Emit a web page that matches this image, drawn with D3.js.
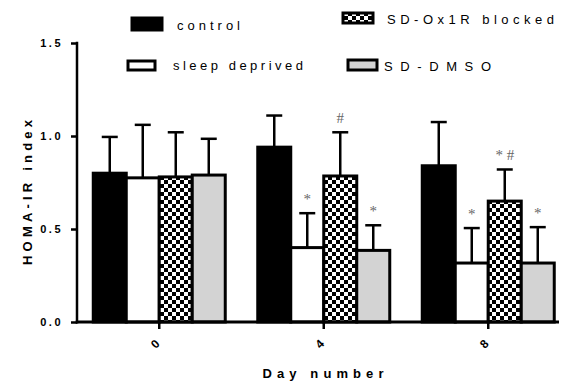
<!DOCTYPE html>
<html>
<head>
<meta charset="utf-8">
<script src="https://cdn.jsdelivr.net/npm/d3@7"></script>
<style>
  html, body { margin: 0; padding: 0; background: #fff; }
  svg { display: block; }
</style>
</head>
<body>
<svg id="chart" width="562" height="383"></svg>
<script>
// HOMA-IR index by day, four experimental groups (mean + SD)
const days = ["0", "4", "8"];
const groups = ["control", "sleep deprived", "SD-Ox1R blocked", "SD-DMSO"];

const controlMean = [0.80, 0.94, 0.84];
const controlSD = [0.195, 0.17, 0.235];
const sleepDeprivedMean = [0.775, 0.40, 0.317];
const sleepDeprivedSD = [0.285, 0.185, 0.188];
const ox1rBlockedMean = [0.78, 0.785, 0.65];
const ox1rBlockedSD = [0.24, 0.235, 0.17];
const dmsoMean = [0.79, 0.385, 0.317];
const dmsoSD = [0.195, 0.135, 0.193];

// significance marks per group and day
const controlMarks = ["", "", ""];
const sleepDeprivedMarks = ["", "*", "*"];
const ox1rBlockedMarks = ["", "#", "* #"];
const dmsoMarks = ["", "*", "*"];

const yTicks = [0, 0.5, 1.0, 1.5];
const yTickLabels = ["0.0", "0.5", "1.0", "1.5"];

const means = [controlMean, sleepDeprivedMean, ox1rBlockedMean, dmsoMean];
const sds = [controlSD, sleepDeprivedSD, ox1rBlockedSD, dmsoSD];
const marks = [controlMarks, sleepDeprivedMarks, ox1rBlockedMarks, dmsoMarks];

const svg = d3.select("#chart");
const sans = "'Liberation Sans', Arial, sans-serif";
const serif = "'Liberation Serif', 'Times New Roman', serif";

// fills: solid black, white, checkerboard, light grey
const defs = svg.append("defs");
const pat = defs.append("pattern")
  .attr("id", "checker")
  .attr("patternUnits", "userSpaceOnUse")
  .attr("width", 8).attr("height", 8);
pat.append("rect").attr("width", 8).attr("height", 8).attr("fill", "#fff");
pat.append("rect").attr("width", 4).attr("height", 4).attr("fill", "#000");
pat.append("rect").attr("x", 4).attr("y", 4).attr("width", 4).attr("height", 4).attr("fill", "#000");
const fills = ["#000", "#fff", "url(#checker)", "#d3d3d3"];

const axisLeft = 77, axisRight = 559, axisTop = 43, axisBottom = 322;

const y = d3.scaleLinear().domain([0, 1.5]).range([axisBottom, axisTop]);
const x = d3.scaleBand().domain(days).range([axisLeft, axisLeft + 3 * 164.5]).padding(0);
const groupWidth = 132;
const xInner = d3.scaleBand().domain(groups).range([-groupWidth / 2, groupWidth / 2]).padding(0);

const barRows = [];
groups.forEach((g, gi) => {
  days.forEach((d, di) => {
    barRows.push({ group: g, gi, day: d, mean: means[gi][di], sd: sds[gi][di], mark: marks[gi][di] });
  });
});

const plot = svg.append("g");
const barX = r => x(r.day) + x.bandwidth() / 2 + xInner(r.group);

// bars
plot.selectAll("rect.bar").data(barRows).join("rect")
  .attr("class", "bar")
  .attr("x", r => barX(r))
  .attr("width", xInner.bandwidth())
  .attr("y", r => y(r.mean))
  .attr("height", r => y(0) - y(r.mean))
  .attr("fill", r => fills[r.gi])
  .attr("stroke", "#000")
  .attr("stroke-width", 3);

// upper error whiskers
const capHalf = 8;
const cx = r => barX(r) + xInner.bandwidth() / 2;
plot.selectAll("line.err").data(barRows).join("line")
  .attr("class", "err")
  .attr("x1", cx).attr("x2", cx)
  .attr("y1", r => y(r.mean)).attr("y2", r => y(r.mean + r.sd))
  .attr("stroke", "#000").attr("stroke-width", 2.5);
plot.selectAll("line.cap").data(barRows).join("line")
  .attr("class", "cap")
  .attr("x1", r => cx(r) - capHalf).attr("x2", r => cx(r) + capHalf)
  .attr("y1", r => y(r.mean + r.sd)).attr("y2", r => y(r.mean + r.sd))
  .attr("stroke", "#000").attr("stroke-width", 2.5);

// significance marks above whiskers
plot.selectAll("text.mark").data(barRows.filter(r => r.mark)).join("text")
  .attr("class", "mark")
  .attr("x", cx)
  .attr("y", r => y(r.mean + r.sd) - 9)
  .attr("text-anchor", "middle")
  .attr("font-family", serif)
  .attr("font-size", 15)
  .attr("fill", "#666")
  .style("-webkit-font-smoothing", "antialiased")
  .text(r => r.mark);

// y axis
const yAxis = d3.axisLeft(y).tickValues(yTicks).tickFormat((d, i) => yTickLabels[i]).tickSize(6).tickPadding(8);
const gy = svg.append("g").attr("transform", `translate(${axisLeft},0)`).call(yAxis);
gy.select(".domain").remove();
gy.selectAll(".tick line").attr("stroke", "#000").attr("stroke-width", 2.5);
gy.selectAll(".tick text")
  .attr("font-family", sans).attr("font-weight", "bold").attr("font-size", 11)
  .attr("letter-spacing", 2.5).attr("fill", "#000");
svg.append("line")
  .attr("x1", axisLeft).attr("x2", axisLeft)
  .attr("y1", axisTop - 1.25).attr("y2", axisBottom + 1.5)
  .attr("stroke", "#000").attr("stroke-width", 2.5);

// x axis
const xAxis = d3.axisBottom(x).tickSize(7).tickFormat(d => d);
const gx = svg.append("g").attr("transform", `translate(0,${axisBottom})`).call(xAxis);
gx.select(".domain").remove();
gx.selectAll(".tick line").attr("stroke", "#000").attr("stroke-width", 2.5);
gx.selectAll(".tick text")
  .attr("font-family", sans).attr("font-weight", "bold").attr("font-size", 12)
  .attr("text-anchor", "middle")
  .attr("dy", null)
  .attr("y", null)
  .attr("transform", "translate(-4,22) rotate(-45)")
  .attr("dominant-baseline", "central")
  .attr("fill", "#000");
svg.append("line")
  .attr("x1", axisLeft - 1.25).attr("x2", axisRight)
  .attr("y1", axisBottom).attr("y2", axisBottom)
  .attr("stroke", "#000").attr("stroke-width", 3);

// axis titles
svg.append("text")
  .attr("transform", `translate(32,${(axisTop + axisBottom) / 2 + 10}) rotate(-90)`)
  .attr("text-anchor", "middle")
  .attr("font-family", sans).attr("font-weight", "bold").attr("font-size", 13)
  .attr("textLength", 145).attr("lengthAdjust", "spacing")
  .text("HOMA-IR index");
svg.append("text")
  .attr("x", 323).attr("y", 378)
  .attr("text-anchor", "middle")
  .attr("font-family", sans).attr("font-weight", "bold").attr("font-size", 13)
  .attr("textLength", 121).attr("lengthAdjust", "spacing")
  .text("Day number");

// legend, two columns
const legendItems = [
  { gi: 0, rx: 132, ry: 18, rw: 30, rh: 12, tx: 177, ty: 30, len: 63 },
  { gi: 1, rx: 128, ry: 61, rw: 27, rh: 9, tx: 173, ty: 70, len: 130 },
  { gi: 2, rx: 343, ry: 13, rw: 30, rh: 10, tx: 387, ty: 24, len: 167 },
  { gi: 3, rx: 348, ry: 60, rw: 29, rh: 10, tx: 384, ty: 71, len: 107 }
];
const lg = svg.append("g");
legendItems.forEach(it => {
  lg.append("rect")
    .attr("x", it.rx).attr("y", it.ry).attr("width", it.rw).attr("height", it.rh)
    .attr("fill", fills[it.gi]).attr("stroke", "#000").attr("stroke-width", 3);
  lg.append("text")
    .attr("x", it.tx).attr("y", it.ty)
    .attr("font-family", sans).attr("font-size", 13)
    .attr("textLength", it.len).attr("lengthAdjust", "spacing")
    .text(groups[it.gi]);
});
</script>
</body>
</html>
